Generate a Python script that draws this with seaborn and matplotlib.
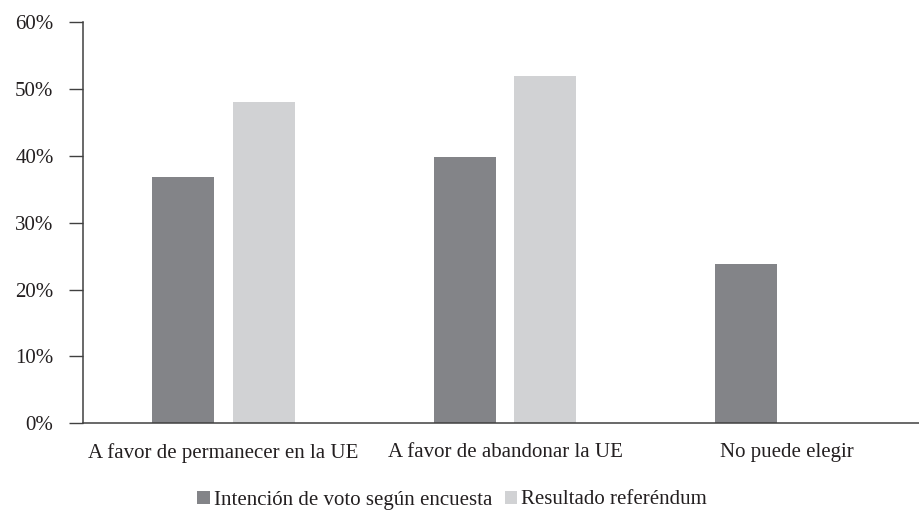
import pandas as pd
import numpy as np
import matplotlib
matplotlib.use('Agg')
import matplotlib.pyplot as plt
import seaborn as sns

categories = ['A favor de permanecer en la UE', 'A favor de abandonar la UE', 'No puede elegir']
series = ['Intención de voto según encuesta', 'Resultado referéndum']
encuesta = [36.8, 39.8, 23.8]
referendum = [48.1, 52.0]          # no value for "No puede elegir"
yticks = [0, 10, 20, 30, 40, 50, 60]
ytick_labels = ['0%', '10%', '20%', '30%', '40%', '50%', '60%']
colors = ['#838488', '#d1d2d4']

rows = []
for cat, v in zip(categories, encuesta):
    rows.append({'cat': cat, 'serie': series[0], 'valor': v})
for cat, v in zip(categories, referendum):
    rows.append({'cat': cat, 'serie': series[1], 'valor': v})
df = pd.DataFrame(rows)

sns.set_style('white')
plt.rcParams['font.family'] = ['Liberation Serif', 'DejaVu Serif']
text_color = '#231f20'

fig = plt.figure(figsize=(9.19, 5.11), dpi=100)
ax = fig.add_axes([0.09, 0.1716, 0.91, 0.7847])

sns.barplot(data=df, x='cat', y='valor', hue='serie', order=categories,
            hue_order=series, palette=colors, width=0.573, gap=0.23,
            saturation=1, edgecolor='none', ax=ax)

ax.set_xlim(-0.5, 2.47)
ax.set_ylim(0, 60)
ax.set_yticks(yticks)
ax.set_yticklabels(ytick_labels)
ax.set_xlabel('')
ax.set_ylabel('')

sns.despine(ax=ax)
for side in ['left', 'bottom']:
    ax.spines[side].set_color('#404040')
    ax.spines[side].set_linewidth(1.1)

ax.tick_params(axis='y', left=True, direction='out', length=10, width=1,
               color='#404040', pad=11, labelsize=15, labelcolor=text_color)
ax.tick_params(axis='x', bottom=False, length=0, pad=14, labelsize=15,
               labelcolor=text_color)

handles, labels = ax.get_legend_handles_labels()
ax.legend_.remove()
fig.legend(handles, labels, loc='center', bbox_to_anchor=(452 / 919, 1 - 500 / 511),
           ncol=2, frameon=False, fontsize=15, handlelength=0.6, handleheight=0.6,
           handletextpad=0.2, columnspacing=0.6, labelcolor=text_color)

fig.savefig('out.png', dpi=100)
